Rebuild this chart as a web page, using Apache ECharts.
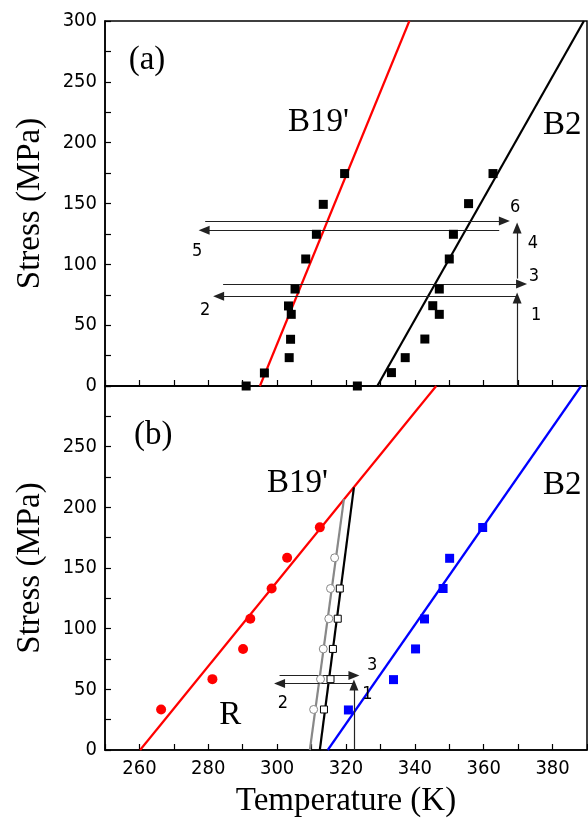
<!DOCTYPE html>
<html>
<head>
<meta charset="utf-8">
<script src="https://cdn.jsdelivr.net/npm/echarts@6/dist/echarts.min.js"></script>
<style>
  html, body { margin: 0; padding: 0; background: #fff; }
  #chart { width: 588px; height: 820px; }
</style>
</head>
<body>
<div id="chart"></div>
<script>
// panel (a): temperature (K) vs stress (MPa)
const b19Points_a = [[291, 0], [296.3, 10.7], [303.5, 23.3], [303.9, 38.4], [304.1, 58.9], [303.3, 65.8], [305.2, 79.7], [308.3, 104.4], [311.4, 124.7], [313.4, 149.3], [319.6, 174.6]];
const b2Points_a = [[323.3, 0], [333.2, 11], [337.2, 23.3], [342.9, 38.6], [345.2, 66], [347.1, 58.9], [347.1, 79.7], [350, 104.4], [351.2, 124.7], [355.6, 149.9], [362.7, 174.6]];
const b19Fit_a = [[295, 0], [338.4, 300]];
const b2Fit_a = [[329.1, 0], [389.1, 300]];
const arrows_a = [
  [[279.1, 135.6], [366, 135.6]],
  [[364.5, 128], [278.8, 128]],
  [[284.3, 83.8], [371, 83.8]],
  [[369.7, 73.7], [283, 73.7]],
  [[369.7, 0], [369.7, 72.3]],
  [[369.7, 88.3], [369.7, 129.9]]
];
const phaseLabels_a = [["(a)", 262.2, 268], ["B19'", 312, 216.7], ["B2", 382.8, 214]];
const stepLabels_a = [["6", 369.1, 146.7], ["5", 276.8, 110.7], ["4", 374.3, 117.3], ["3", 374.6, 90], ["2", 279.1, 62.2], ["1", 375.2, 58]];

// panel (b)
const rPoints_b = [[266.3, 33.4], [281.2, 58.4], [290.1, 83.3], [292.2, 108.2], [298.4, 133.1], [302.9, 158.4], [312.4, 183.5]];
const b2Points_b = [[320.7, 33], [333.8, 58], [340.2, 83.3], [342.8, 108], [348.2, 133.1], [350.1, 158], [359.7, 183.4]];
const openSquares_b = [[313.6, 33.4], [315.5, 58.4], [316.2, 83.3], [317.6, 108.2], [318.2, 133.1]];
const openCircles_b = [[310.6, 33.4], [312.6, 58.4], [313.4, 83.3], [315, 108.2], [315.5, 133.1], [316.7, 158.4]];
const rFit_b = [[260.2, 0], [346.2, 300]];
const b2Fit_b = [[314.7, 0], [388.3, 300]];
const blackFit_b = [[312.4, 0], [322.3, 216.5]];
const grayFit_b = [[309.5, 0], [319.4, 206.8]];
const arrows_b = [
  [[300.7, 61.4], [322.3, 61.4]],
  [[322.3, 54.8], [300.7, 54.8]],
  [[322.3, 0], [322.3, 53.6]]
];
const phaseLabels_b = [["(b)", 264, 259.6], ["B19'", 305.9, 220], ["B2", 382.8, 218.4], ["R", 286.4, 28.8]];
const stepLabels_b = [["3", 327.6, 69.5], ["2", 301.7, 38.5], ["1", 326.2, 46.2]];

const tempRange = [250, 390];
const stressRange = [0, 300];

const chart = echarts.init(document.getElementById("chart"));

const serif = "'Liberation Serif', 'Times New Roman', serif";
const sans = "'DejaVu Sans Condensed', 'DejaVu Sans', Verdana, sans-serif";

function xAxisFor(gridIndex, showLabel) {
  return {
    type: "value", gridIndex: gridIndex,
    min: tempRange[0], max: tempRange[1], interval: 10,
    axisLine: { show: true, lineStyle: { color: "#000", width: 1.5 } },
    axisTick: { show: true, inside: true, length: 6, lineStyle: { color: "#000", width: 1.2 } },
    axisLabel: {
      show: showLabel, margin: 9, color: "#000", fontFamily: sans, fontSize: 20,
      formatter: v => (v % 20 === 0 && v > tempRange[0] && v < tempRange[1]) ? String(v) : ""
    },
    splitLine: { show: false },
    name: showLabel ? "Temperature (K)" : "",
    nameLocation: "middle", nameGap: 35,
    nameTextStyle: { fontFamily: serif, fontSize: 33, color: "#000", lineHeight: 33 }
  };
}

function yAxisFor(gridIndex, hideTop) {
  return {
    type: "value", gridIndex: gridIndex,
    min: stressRange[0], max: stressRange[1], interval: 50,
    axisLine: { show: true, lineStyle: { color: "#000", width: 1.5 } },
    axisTick: { show: true, inside: true, length: 6, lineStyle: { color: "#000", width: 1.2 } },
    minorTick: { show: true, splitNumber: 2, length: 6, lineStyle: { color: "#000", width: 1.2 } },
    axisLabel: {
      color: "#000", fontFamily: sans, fontSize: 20, margin: 8,
      formatter: v => (hideTop && v === stressRange[1]) ? "" : String(v)
    },
    splitLine: { show: false },
    name: "Stress (MPa)", nameLocation: "middle", nameGap: 58,
    nameTextStyle: { fontFamily: serif, fontSize: 33, color: "#000" }
  };
}

function pts(xi, data, symbol, size, style) {
  return {
    type: "scatter", xAxisIndex: xi, yAxisIndex: xi, data: data,
    symbol: symbol, symbolSize: size, itemStyle: Object.assign({ opacity: 1 }, style),
    silent: true, z: 5
  };
}

function fit(xi, data, color) {
  return {
    type: "line", xAxisIndex: xi, yAxisIndex: xi, data: data,
    showSymbol: false, symbol: "none", silent: true, z: 4,
    lineStyle: { color: color, width: 2.2 }
  };
}

function arrows(xi, list) {
  return {
    type: "line", xAxisIndex: xi, yAxisIndex: xi, data: [], silent: true, z: 3,
    markLine: {
      silent: true, animation: false,
      symbol: ["none", "triangle"], symbolSize: [9, 11],
      label: { show: false },
      lineStyle: { color: "#222", width: 1.2, type: "solid" },
      data: list.map(a => [{ coord: a[0] }, { coord: a[1] }])
    }
  };
}

function texts(xi, list, font, size) {
  return {
    type: "scatter", xAxisIndex: xi, yAxisIndex: xi, symbolSize: 0, silent: true, z: 6,
    itemStyle: { opacity: 1 },
    data: list.map(t => ({ name: t[0], value: [t[1], t[2]] })),
    label: {
      show: true, position: "inside", formatter: "{b}",
      color: "#000", fontFamily: font, fontSize: size
    }
  };
}

const option = {
  animation: false,
  backgroundColor: "#fff",
  grid: [
    { left: 105, right: 1, top: 21, height: 365, show: true, borderColor: "#000", borderWidth: 1.5, outerBoundsMode: "none", containLabel: false },
    { left: 105, right: 1, top: 386, height: 364, show: true, borderColor: "#000", borderWidth: 1.5, outerBoundsMode: "none", containLabel: false }
  ],
  xAxis: [xAxisFor(0, false), xAxisFor(1, true)],
  yAxis: [yAxisFor(0, false), yAxisFor(1, true)],
  series: [
    fit(0, b19Fit_a, "#ff0000"),
    fit(0, b2Fit_a, "#000"),
    pts(0, b19Points_a, "rect", 9, { color: "#000" }),
    pts(0, b2Points_a, "rect", 9, { color: "#000" }),
    arrows(0, arrows_a),
    texts(0, phaseLabels_a, serif, 33),
    texts(0, stepLabels_a, sans, 18),

    fit(1, rFit_b, "#ff0000"),
    fit(1, b2Fit_b, "#0000ff"),
    fit(1, grayFit_b, "#888"),
    fit(1, blackFit_b, "#000"),
    pts(1, rPoints_b, "circle", 10, { color: "#ff0000" }),
    pts(1, b2Points_b, "rect", 9, { color: "#0000ff" }),
    pts(1, openCircles_b, "circle", 8, { color: "#fff", borderColor: "#888", borderWidth: 1 }),
    pts(1, openSquares_b, "rect", 7, { color: "#fff", borderColor: "#000", borderWidth: 1 }),
    arrows(1, arrows_b),
    texts(1, phaseLabels_b, serif, 33),
    texts(1, stepLabels_b, sans, 18)
  ]
};

chart.setOption(option);
</script>
</body>
</html>
